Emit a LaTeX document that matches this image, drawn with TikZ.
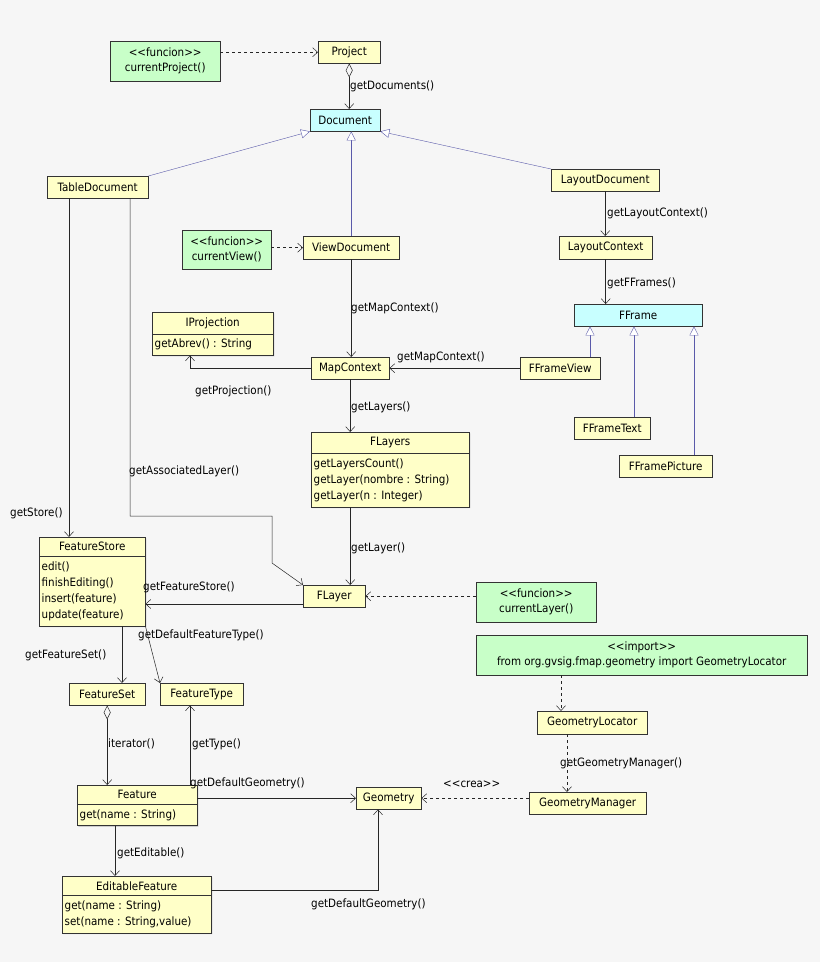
\documentclass[tikz,border=0pt]{standalone}
\usepackage{fontspec}
\setmainfont{DejaVu Sans Condensed}
\usetikzlibrary{positioning,arrows.meta,shapes.multipart,shadows}
\definecolor{clsyellow}{RGB}{255,255,200}
\definecolor{clsgreen}{RGB}{200,255,200}
\definecolor{clscyan}{RGB}{200,255,255}
\definecolor{genblue}{RGB}{90,90,170}
\definecolor{bggray}{RGB}{246,246,246}
\tikzset{
	cls/.style={draw=black!80, fill=clsyellow, anchor=north west, inner sep=2pt,
		drop shadow={shadow xshift=1.2pt,shadow yshift=-1.2pt,fill=black!35}},
	fun/.style={cls, fill=clsgreen, align=center},
	iface/.style={cls, fill=clscyan},
	split/.style={cls, rectangle split, rectangle split parts=2, align=left,
		rectangle split part align={center,left},
		inner xsep=2.5pt, inner ysep=5pt, font=\fontsize{11.5}{16}\selectfont},
	lbl/.style={anchor=west, inner sep=0pt},
	nav/.style={draw=black!85, line width=0.5pt, -{Straight Barb[length=5pt,width=9pt]}},
	dep/.style={nav, dashed},
	gen/.style={draw=genblue, -{Triangle[open,length=9pt,width=9pt,fill=white]}},
	agg/.style={nav, {Diamond[open,length=14pt,width=7pt]}-{Straight Barb[length=5pt,width=9pt]}},
}
\begin{document}
\begin{tikzpicture}[x=1pt,y=-1pt,font=\fontsize{11.5}{15}\selectfont]
	\fill [bggray] (0,0) rectangle (820,962);
	\useasboundingbox (0,0) rectangle (820,962);
	% documentos
	\node [fun, minimum width=110, minimum height=40] (fproject) at (110,41) {<{}<funcion>{}>\\currentProject()};
	\node [cls, minimum width=62, minimum height=22] (project) at (318,41) {Project};
	\node [iface, minimum width=70, minimum height=22] (document) at (310,109) {Document};
	\node [cls, minimum width=101, minimum height=22] (tabledoc) at (47,176) {TableDocument};
	\node [cls, minimum width=108, minimum height=22] (layoutdoc) at (551,169) {LayoutDocument};
	\node [fun, minimum width=89, minimum height=39] (fview) at (182,230) {<{}<funcion>{}>\\currentView()};
	\node [cls, minimum width=96, minimum height=23] (viewdoc) at (303,236) {ViewDocument};
	\node [cls, minimum width=93, minimum height=23] (layoutctx) at (559,236) {LayoutContext};
	% frames
	\node [iface, minimum width=128, minimum height=22] (fframe) at (574,304) {FFrame};
	\node [cls, minimum width=80, minimum height=22] (fframeview) at (520,357) {FFrameView};
	\node [cls, minimum width=76, minimum height=22] (fframetext) at (574,417) {FFrameText};
	\node [cls, minimum width=93, minimum height=22] (fframepic) at (619,455) {FFramePicture};
	% vista
	\node [split] (iproj) at (152,312) {\makebox[116pt]{IProjection}\nodepart{two}getAbrev() : String};
	\node [cls, minimum width=78, minimum height=22] (mapctx) at (311,357) {MapContext};
	\node [split] (flayers) at (311,432) {\makebox[153pt]{FLayers}\nodepart{two}getLayersCount()\\getLayer(nombre : String)\\getLayer(n : Integer)};
	\node [cls, minimum width=62, minimum height=22] (flayer) at (303,585) {FLayer};
	\node [fun, minimum width=120, minimum height=40] (flayerfun) at (476,582) {<{}<funcion>{}>\\currentLayer()};
	% features
	\node [split] (fstore) at (39,537) {\makebox[101pt]{FeatureStore}\nodepart{two}edit()\\finishEditing()\\insert(feature)\\update(feature)};
	\node [cls, minimum width=76, minimum height=22] (fset) at (69,683) {FeatureSet};
	\node [cls, minimum width=83, minimum height=22] (ftype) at (160,683) {FeatureType};
	\node [split] (feature) at (77,785) {\makebox[115pt]{Feature}\nodepart{two}get(name : String)};
	\node [split] (editable) at (62,876) {\makebox[144pt]{EditableFeature}\nodepart{two}get(name : String)\\set(name : String,value)};
	% geometria
	\node [fun, minimum width=331, minimum height=40] (imp) at (476,635) {<{}<import>{}>\\from org.gvsig.fmap.geometry import GeometryLocator};
	\node [cls, minimum width=110, minimum height=23] (geoloc) at (537,711) {GeometryLocator};
	\node [cls, minimum width=65, minimum height=22] (geometry) at (356,787) {Geometry};
	\node [cls, minimum width=117, minimum height=22] (geoman) at (529,792) {GeometryManager};
	% columnas y codos
	\coordinate (x69) at (69,0);
	\coordinate (x130) at (130,0);
	\coordinate (x122) at (122,0);
	\coordinate (x115) at (115,0);
	\coordinate (x190) at (190,0);
	\coordinate (x378) at (378,0);
	\coordinate (x561) at (561,0);
	\coordinate (x567) at (567,0);
	\coordinate (x590) at (590,0);
	\coordinate (x634) at (634,0);
	\coordinate (x694) at (694,0);
	\coordinate (y604) at (0,604);
	\coordinate (y890) at (0,890);
	\coordinate (bendA) at (272,516);
	\coordinate (bendB) at (272,563);
	% conectores
	\draw [dep] (fproject.east |- project.west) -- (project.west);
	\draw [agg] (project.south) -- (project.south |- document.north);
	\draw [gen] (tabledoc.north east) -- (document.south west);
	\draw [gen] (viewdoc.north) -- (viewdoc.north |- document.south);
	\draw [gen] (layoutdoc.north west) -- (document.south east);
	\draw [nav] (layoutdoc.south) -- (layoutdoc.south |- layoutctx.north);
	\draw [nav] (layoutctx.south) -- (layoutctx.south |- fframe.north);
	\draw [dep] (fview.east |- viewdoc.west) -- (viewdoc.west);
	\draw [nav] (viewdoc.south) -- (viewdoc.south |- mapctx.north);
	\draw [nav] (mapctx.west) -| (x190 |- iproj.south);
	\draw [nav] (fframeview.west) -- (mapctx.east);
	\draw [gen] (x590 |- fframeview.north) -- (x590 |- fframe.south);
	\draw [gen] (x634 |- fframetext.north) -- (x634 |- fframe.south);
	\draw [gen] (x694 |- fframepic.north) -- (x694 |- fframe.south);
	\draw [nav] (mapctx.south) -- (mapctx.south |- flayers.north);
	\draw [nav] (mapctx.south |- flayers.south) -- (mapctx.south |- flayer.north);
	\draw [nav] (x69 |- tabledoc.south) -- (x69 |- fstore.north);
	\draw [nav] (x130 |- tabledoc.south) -- (x130 |- bendA) -- (bendA) -- (bendB) -- (flayer.north west);
	\draw [nav] (flayer.west |- y604) -- (fstore.east |- y604);
	\draw [dep] (flayerfun.west |- flayer.east) -- (flayer.east);
	\draw [nav] (x122 |- fstore.south) -- (x122 |- fset.north);
	\draw [nav] (fstore.south east) -- (ftype.north west);
	\draw [agg] (fset.south) -- (fset.south |- feature.north);
	\draw [nav] (x190 |- feature.north) -- (x190 |- ftype.south);
	\draw [nav] (feature.north east |- geometry.west) -- (geometry.west);
	\draw [dep] (geoman.west |- geometry.east) -- (geometry.east);
	\draw [dep] (x561 |- imp.south) -- (x561 |- geoloc.north);
	\draw [dep] (x567 |- geoloc.south) -- (x567 |- geoman.north);
	\draw [nav] (x115 |- feature.south) -- (x115 |- editable.north);
	\draw [nav] (editable.east |- y890) -| (x378 |- geometry.south);
	% etiquetas
	\node [lbl] (lgetdocs) at (350,86) {getDocuments()};
	\node [lbl] (lgetlctx) at (607,213) {getLayoutContext()};
	\node [lbl] (lgetfframes) at (607,283) {getFFrames()};
	\node [lbl] (lgetmctx) at (351,308) {getMapContext()};
	\node [lbl] (lgetmctxb) at (397,357) {getMapContext()};
	\node [lbl] (lgetproj) at (195,391) {getProjection()};
	\node [lbl] (lgetlayers) at (351,407) {getLayers()};
	\node [lbl] (lgetassoc) at (129,471) {getAssociatedLayer()};
	\node [lbl] (lgetstore) at (10,513) {getStore()};
	\node [lbl] (lgetlayer) at (351,548) {getLayer()};
	\node [lbl] (lgetfstore) at (143,587) {getFeatureStore()};
	\node [lbl] (lgetdftype) at (138,635) {getDefaultFeatureType()};
	\node [lbl] (lgetfset) at (25,655) {getFeatureSet()};
	\node [lbl] (literator) at (108,744) {iterator()};
	\node [lbl] (lgettype) at (192,744) {getType()};
	\node [lbl] (lgetdgeom) at (190,783) {getDefaultGeometry()};
	\node [lbl] (lcrea) at (443,784) {<{}<crea>{}>};
	\node [lbl] (lgetgman) at (560,763) {getGeometryManager()};
	\node [lbl] (lgetedit) at (117,853) {getEditable()};
	\node [lbl] (lgetdgeomb) at (311,904) {getDefaultGeometry()};
\end{tikzpicture}
\end{document}
